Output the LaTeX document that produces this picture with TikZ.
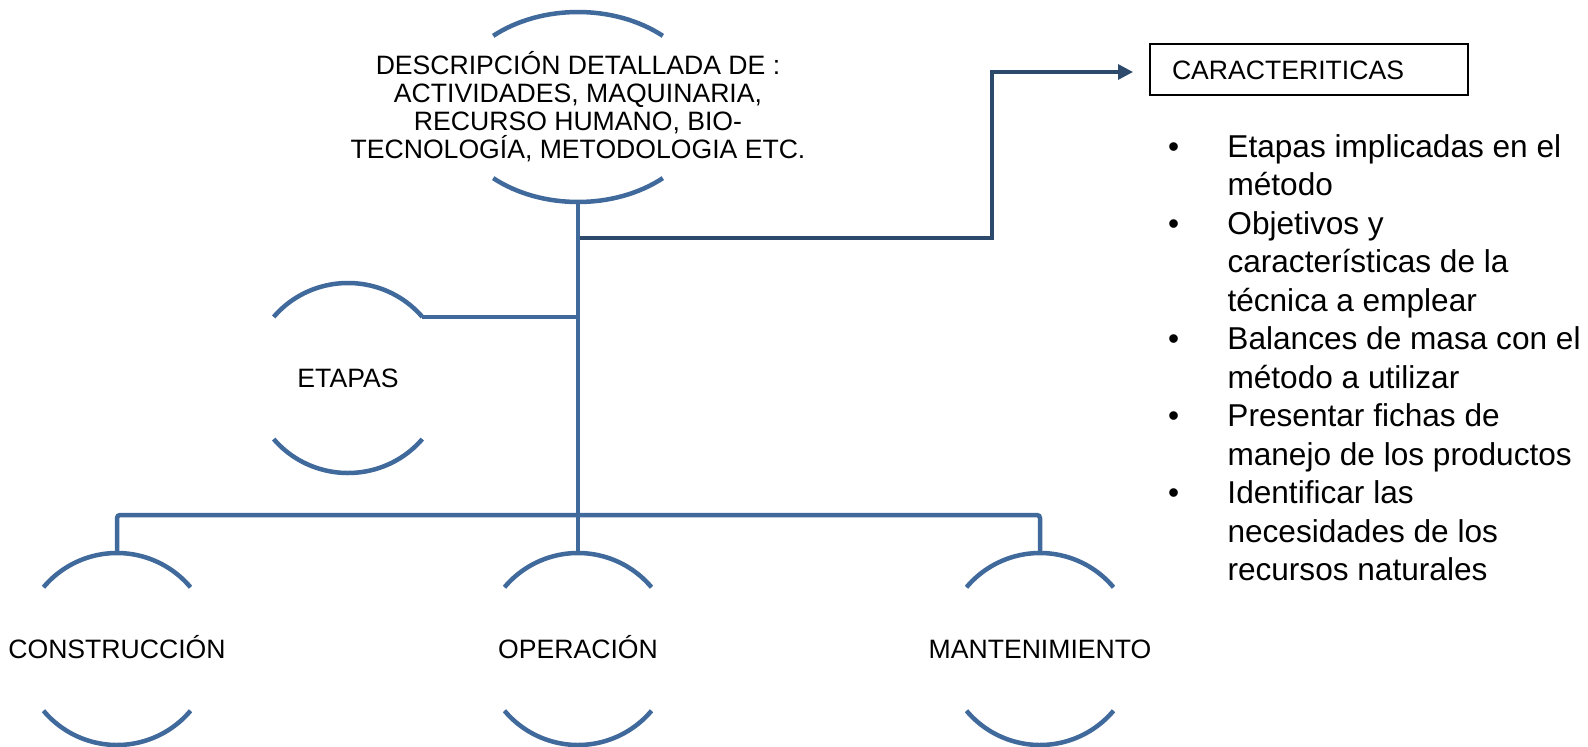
\documentclass[tikz,border=0pt]{standalone}
\usepackage{fontspec}
\setmainfont{Liberation Sans}
\usetikzlibrary{calc,arrows.meta}
\definecolor{arcblue}{RGB}{64,105,156}
\definecolor{linkdark}{RGB}{45,73,108}
\tikzset{
  bluestroke/.style={draw=arcblue, line width=4.5pt},
  darkstroke/.style={draw=linkdark, line width=3.3pt},
  txt/.style={font=\fontsize{26.6}{28}\selectfont, inner sep=0pt, outer sep=0pt},
  hub/.style={txt, minimum width=192pt, minimum height=192pt, text height=19pt, text depth=0pt},
}
\newcommand\bracketarcs[4]{%
  \draw[bluestroke] ($(#1.center)+(180+#4:#2 and #3)$) arc[start angle=180+#4, end angle=360-#4, x radius=#2, y radius=#3];
  \draw[bluestroke] ($(#1.center)+(#4:#2 and #3)$) arc[start angle=#4, end angle=180-#4, x radius=#2, y radius=#3];
}
\begin{document}
\begin{tikzpicture}[x=1pt,y=-1pt]
\useasboundingbox (0,0) rectangle (1588,747);

% hierarchy nodes
\node[txt, minimum width=256pt, minimum height=190pt, align=center] (desc) at (578,107)
  {DESCRIPCIÓN DETALLADA DE :\\ACTIVIDADES, MAQUINARIA,\\RECURSO HUMANO, BIO-\\TECNOLOGÍA, METODOLOGIA ETC.};
\node[hub, minimum width=194pt, minimum height=190pt] (etapas) at (348,378) {ETAPAS};
\node[hub] (cons) at (117,649) {CONSTRUCCIÓN};
\node[hub] (oper) at (578,649) {OPERACIÓN};
\node[hub] (mant) at (1040,649) {MANTENIMIENTO};

\bracketarcs{desc}{128}{95}{48.5}
\bracketarcs{etapas}{97}{95}{40}
\bracketarcs{cons}{96}{96}{40}
\bracketarcs{oper}{96}{96}{40}
\bracketarcs{mant}{96}{96}{40}

% blue connectors
\draw[bluestroke] (desc.south) -- (oper.north);
\coordinate (bar) at (578,515);
\draw[bluestroke, rounded corners=3pt] (cons.north) -- (cons.north |- bar) -- (mant.north |- bar) -- (mant.north);
\coordinate (etapasend) at ($(etapas.center)+(320:97 and 95)$);
\draw[bluestroke] (etapasend) -- (etapasend -| desc.south);

% characteristics box and arrow
\node[txt, draw=black, line width=1.8pt, minimum width=318pt, minimum height=51pt,
      text width=274pt, align=left, inner xsep=22pt, text height=19pt, text depth=0pt]
      (carac) at (1309,69.5) {CARACTERITICAS};
\coordinate (branch) at (580,238);
\coordinate (turn) at (992,72);
\coordinate (tip) at (1133,72);
\draw[darkstroke, -{Triangle[length=15pt,width=15pt]}] (branch) -| (turn) -- (tip);

% bullet list
\node[anchor=north west, inner sep=0pt, outer sep=0pt, font=\fontsize{31.6}{38.5}\selectfont]
  (list) at (1168,130.5) {%
  \begin{tabular}{@{}p{59.5pt}@{}l@{}}
  \textbullet & Etapas implicadas en el\\
   & método\\
  \textbullet & Objetivos y\\
   & características de la\\
   & técnica a emplear\\
  \textbullet & Balances de masa con el\\
   & método a utilizar\\
  \textbullet & Presentar fichas de\\
   & manejo de los productos\\
  \textbullet & Identificar las\\
   & necesidades de los\\
   & recursos naturales
  \end{tabular}};
\end{tikzpicture}
\end{document}
